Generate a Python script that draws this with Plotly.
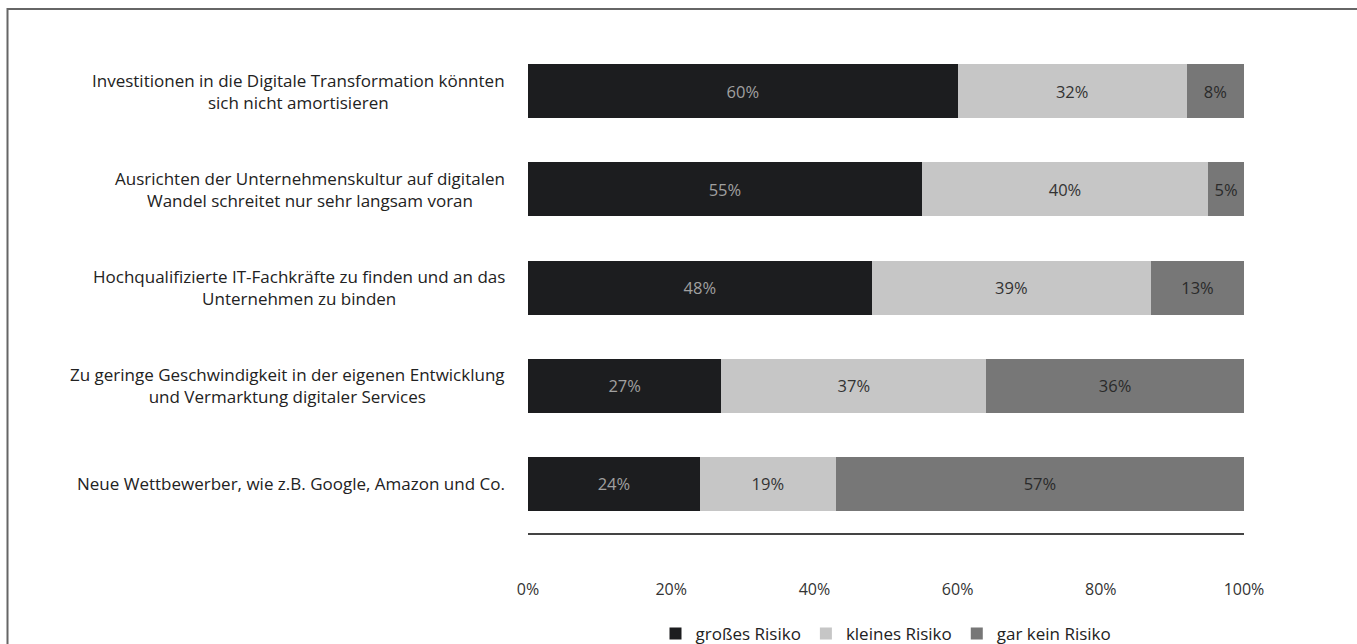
import plotly.graph_objects as go

categories = [
    "Investitionen in die Digitale Transformation könnten<br>sich nicht amortisieren",
    "Ausrichten der Unternehmenskultur auf digitalen<br>Wandel schreitet nur sehr langsam voran",
    "Hochqualifizierte IT-Fachkräfte zu finden und an das<br>Unternehmen zu binden",
    "Zu geringe Geschwindigkeit in der eigenen Entwicklung<br>und Vermarktung digitaler Services",
    "Neue Wettbewerber, wie z.B. Google, Amazon und Co.",
]
series_names = ["großes Risiko", "kleines Risiko", "gar kein Risiko"]
gross = [60, 55, 48, 27, 24]
klein = [32, 40, 39, 37, 19]
kein = [8, 5, 13, 36, 57]
tick_vals = [0, 20, 40, 60, 80, 100]
tick_text = ["0%", "20%", "40%", "60%", "80%", "100%"]

colors = ["#1c1d1f", "#c6c6c6", "#777777"]
text_colors = ["#a0a0a0", "#333333", "#2a2a2a"]
FONT = "Open Sans"

W, H = 1357, 644
L, R, T, B = 528, 113, 42, 111
pw, ph = W - L - R, H - T - B

fig = go.Figure()
for name, vals, c, tc in zip(series_names, [gross, klein, kein], colors, text_colors):
    fig.add_trace(go.Bar(
        y=categories, x=vals, name=name, orientation="h",
        marker=dict(color=c, line=dict(width=0)),
        width=0.55,
        text=[f"{v}%" for v in vals],
        textposition="inside", insidetextanchor="middle",
        textfont=dict(color=tc, size=16.5, family=FONT),
        hoverinfo="skip",
    ))

for cat in categories:
    fig.add_annotation(
        x=0, xref="paper", y=cat, yref="y", text=cat, showarrow=False,
        xanchor="right", yanchor="middle", align="center", xshift=-21,
        font=dict(size=17, color="#222222", family=FONT),
    )

def px_x(x):
    return (x - L) / pw

def px_y(y):
    return (H - B - y) / ph

# outer frame
fig.add_shape(type="rect", xref="paper", yref="paper",
              x0=px_x(7.5), y0=px_y(700), x1=px_x(1420), y1=px_y(9),
              line=dict(color="#666666", width=2), fillcolor="rgba(0,0,0,0)")

fig.update_layout(
    width=W, height=H,
    margin=dict(l=L, r=R, t=T, b=B, autoexpand=False),
    barmode="stack",
    bargap=0.45,
    plot_bgcolor="white", paper_bgcolor="white",
    font=dict(family=FONT, color="#333333"),
    showlegend=True,
    legend=dict(orientation="h", x=0.5, xanchor="center",
                y=px_y(634), yanchor="middle",
                font=dict(size=17, color="#222222", family=FONT),
                itemwidth=30, traceorder="normal"),
    xaxis=dict(range=[0, 100], tickvals=tick_vals, ticktext=tick_text,
               showgrid=False, zeroline=False, showline=True,
               linecolor="#444444", linewidth=1.5,
               ticks="", ticklabelstandoff=41,
               tickfont=dict(size=16, color="#333333", family=FONT),
               fixedrange=True),
    yaxis=dict(autorange="reversed", showticklabels=False, showgrid=False,
               zeroline=False, showline=False, ticks="", fixedrange=True),
)

fig.write_html("out.html")
